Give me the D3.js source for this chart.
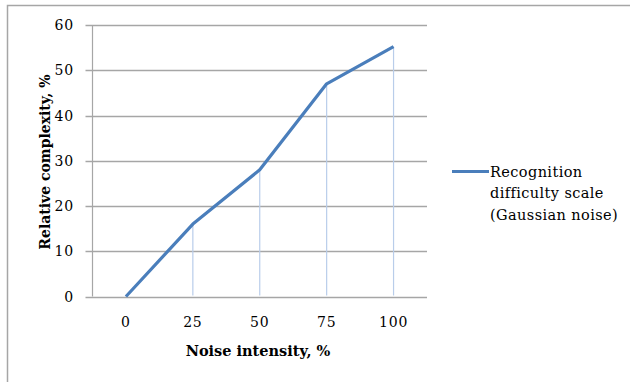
<!DOCTYPE html>
<html>
<head>
<meta charset="utf-8">
<script src="https://cdn.jsdelivr.net/npm/d3@7"></script>
<style>
  body { margin: 0; background: #fff; }
  svg { display: block; }
  text { font-family: "DejaVu Serif", "Liberation Serif", serif; fill: #000; }
</style>
</head>
<body>
<svg width="630" height="382"></svg>
<script>
var noise = ["0", "25", "50", "75", "100"];
var difficulty = [0, 16, 28, 47, 55.2];
var yTicks = [0, 10, 20, 30, 40, 50, 60];
var seriesName = ["Recognition", "difficulty scale", "(Gaussian noise)"];

var svg = d3.select("svg"),
    width = +svg.attr("width"),
    height = +svg.attr("height");

var plot = {left: 92.5, right: 427, top: 25, bottom: 296.5};

// chart frame (only top and left edges fall inside the picture)
svg.append("path")
    .attr("d", "M7.5," + height + " V5.5 H" + width)
    .attr("fill", "none")
    .attr("stroke", "#a6a6a6")
    .attr("stroke-width", 1.5);

var x = d3.scaleBand()
    .domain(noise)
    .range([plot.left, plot.right]);

var y = d3.scaleLinear()
    .domain([0, 60])
    .range([plot.bottom, plot.top]);

// gridlines with tick stubs
svg.append("g")
    .selectAll("line")
    .data(yTicks)
    .enter()
    .append("line")
    .attr("x1", plot.left - 7)
    .attr("x2", plot.right)
    .attr("y1", function (d) { return Math.round(y(d)) + 0.5; })
    .attr("y2", function (d) { return Math.round(y(d)) + 0.5; })
    .attr("stroke", "#a6a6a6")
    .attr("stroke-width", 1.5);

// y axis line
svg.append("line")
    .attr("x1", plot.left).attr("x2", plot.left)
    .attr("y1", plot.top).attr("y2", plot.bottom)
    .attr("stroke", "#a6a6a6")
    .attr("stroke-width", 1.2);

// y tick labels
svg.append("g")
    .selectAll("text")
    .data(yTicks)
    .enter()
    .append("text")
    .attr("x", 74)
    .attr("y", function (d) { return y(d) + 5; })
    .attr("text-anchor", "end")
    .style("font-size", "14px")
    .style("letter-spacing", "0.8px")
    .text(function (d) { return d; });

// x tick labels
svg.append("g")
    .selectAll("text")
    .data(noise)
    .enter()
    .append("text")
    .attr("x", function (d) { return x(d) + x.bandwidth() / 2; })
    .attr("y", 327)
    .attr("text-anchor", "middle")
    .style("font-size", "14px")
    .style("letter-spacing", "0.8px")
    .text(function (d) { return d; });

var pts = noise.map(function (d, i) { return {cat: d, val: difficulty[i]}; });

// drop lines
svg.append("g")
    .selectAll("line")
    .data(pts)
    .enter()
    .append("line")
    .attr("x1", function (d) { return x(d.cat) + x.bandwidth() / 2; })
    .attr("x2", function (d) { return x(d.cat) + x.bandwidth() / 2; })
    .attr("y1", function (d) { return y(d.val); })
    .attr("y2", plot.bottom - 1)
    .attr("stroke", "#b9cdea")
    .attr("stroke-width", 1.2);

var line = d3.line()
    .x(function (d) { return x(d.cat) + x.bandwidth() / 2; })
    .y(function (d) { return y(d.val); });

svg.append("path")
    .datum(pts)
    .attr("d", line)
    .attr("fill", "none")
    .attr("stroke", "#4a7ebb")
    .attr("stroke-width", 3.2)
    .attr("stroke-linejoin", "round");

// axis titles
svg.append("text")
    .attr("x", 258)
    .attr("y", 356)
    .attr("text-anchor", "middle")
    .style("font-size", "14.5px")
    .style("font-weight", "bold")
    .text("Noise intensity, %");

svg.append("text")
    .attr("transform", "translate(50,162) rotate(-90)")
    .attr("text-anchor", "middle")
    .style("font-size", "14px")
    .style("font-weight", "bold")
    .text("Relative complexity, %");

// legend
svg.append("line")
    .attr("x1", 452).attr("x2", 489)
    .attr("y1", 171.5).attr("y2", 171.5)
    .attr("stroke", "#4a7ebb")
    .attr("stroke-width", 3.2);

svg.append("g")
    .selectAll("text")
    .data(seriesName)
    .enter()
    .append("text")
    .attr("x", 490)
    .attr("y", function (d, i) { return 176.5 + i * 21.5; })
    .style("font-size", "14.5px")
    .style("letter-spacing", "0.4px")
    .text(function (d) { return d; });
</script>
</body>
</html>
